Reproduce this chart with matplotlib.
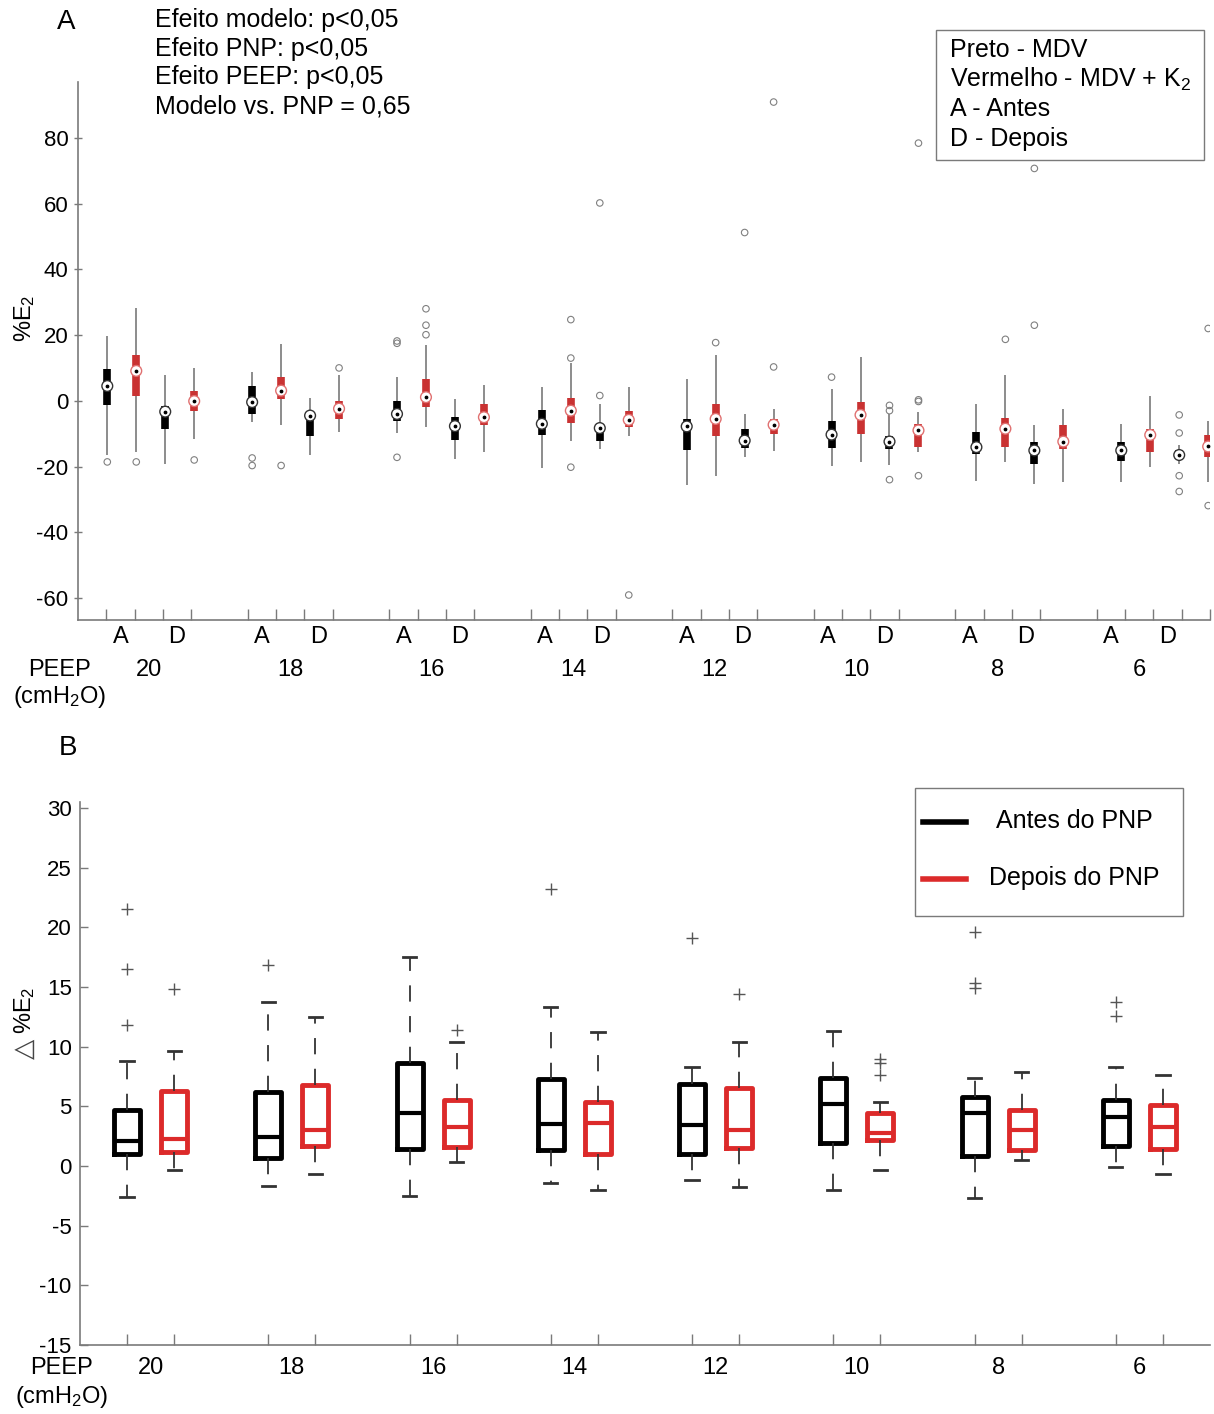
import numpy as np
import matplotlib.pyplot as plt
from matplotlib.lines import Line2D
from matplotlib.patches import Rectangle
from matplotlib.transforms import blended_transform_factory

plt.rcParams['font.family'] = ['Liberation Sans', 'DejaVu Sans']
plt.rcParams['mathtext.fontset'] = 'custom'
plt.rcParams['mathtext.rm'] = 'Liberation Sans'
plt.rcParams['mathtext.it'] = 'Liberation Sans'
plt.rcParams['axes.unicode_minus'] = False

peep = [20, 18, 16, 14, 12, 10, 8, 6]

# painel A: para cada PEEP -> MDV antes, MDV+K2 antes, MDV depois, MDV+K2 depois
a_whishi = [19.7, 28.3, 7.7, 10.0,   8.7, 17.4, 1.0, 7.7,
            7.2, 17.1, 0.4, 4.9,     4.2, 11.5, -0.9, 4.2,
            6.7, 14.0, -4.0, -2.4,   3.5, 13.3, -4.0, -3.5,
            -0.9, 7.7, -7.5, -2.4,   -7.0, 1.6, -13.6, -6.0]
a_q3 = [9.8, 14.0, -1.6, 3.1,    4.5, 7.2, -3.5, -0.2,
        -0.2, 6.5, -5.0, -0.9,   -2.7, 0.8, -7.0, -3.0,
        -5.5, -0.9, -8.7, -5.5,  -6.2, -0.4, -10.6, -7.0,
        -9.6, -5.3, -12.6, -7.5, -12.6, -8.5, -15.1, -10.4]
a_med = [4.5, 9.1, -3.3, -0.1,    -0.4, 3.1, -4.5, -2.4,
         -4.0, 1.1, -7.7, -5.0,   -7.0, -3.0, -8.3, -5.8,
         -7.8, -5.5, -12.1, -7.3, -10.3, -4.3, -12.4, -9.0,
         -14.1, -8.5, -15.1, -12.4, -15.1, -10.4, -16.5, -13.9]
a_q1 = [-1.2, 1.6, -8.5, -3.0,    -4.0, 0.6, -10.6, -5.5,
        -6.0, -1.9, -11.8, -7.5,  -10.4, -6.7, -12.1, -8.0,
        -15.1, -10.8, -14.4, -10.0, -14.4, -10.0, -14.6, -14.1,
        -16.2, -14.1, -19.2, -14.6, -18.2, -15.6, -17.7, -17.2]
a_whislo = [-16.5, -15.6, -19.2, -11.6,  -6.5, -7.5, -16.6, -9.4,
            -9.8, -8.0, -17.7, -15.6,    -20.5, -12.1, -14.6, -10.6,
            -25.6, -22.8, -17.2, -15.4,  -19.7, -18.7, -19.5, -15.6,
            -24.3, -18.7, -25.3, -24.6,  -24.6, -20.2, -19.2, -24.6]
a_fliers = [[-18.6], [-18.6], [], [-18.0],
            [-17.4, -19.7], [-19.7], [], [10.0],
            [17.5, 18.2, -17.2], [20.1, 23.0, 28.0], [], [],
            [], [13.0, 24.7, -20.2], [1.6, 60.2], [-59.1],
            [], [17.7], [51.2], [10.3, 90.9],
            [7.2], [], [-1.4, -3.0, -24.0], [-0.2, 0.3, -22.8, 78.4],
            [], [18.7], [23.0, 70.7], [],
            [], [], [-4.3, -9.8, -22.8, -27.6], [22.0, -31.9]]

# painel B: delta %E2 antes / depois do PNP
b_antes_q1 = [1.0, 0.7, 1.45, 1.3, 1.0, 1.9, 0.8, 1.7]
b_antes_med = [2.1, 2.4, 4.4, 3.5, 3.4, 5.2, 4.4, 4.1]
b_antes_q3 = [4.65, 6.2, 8.6, 7.3, 6.9, 7.4, 5.8, 5.55]
b_antes_lo = [-2.6, -1.7, -2.5, -1.4, -1.2, -2.0, -2.7, -0.1]
b_antes_hi = [8.8, 13.7, 17.5, 13.3, 8.3, 11.3, 7.4, 8.3]
b_antes_fl = [[11.8, 16.5, 21.5], [16.8], [], [23.2], [19.1], [], [14.9, 15.3, 19.6], [12.6, 13.7]]
b_depois_q1 = [1.2, 1.7, 1.6, 1.0, 1.5, 2.15, 1.3, 1.45]
b_depois_med = [2.3, 3.0, 3.3, 3.6, 3.0, 2.8, 3.0, 3.25]
b_depois_q3 = [6.3, 6.75, 5.55, 5.35, 6.5, 4.4, 4.7, 5.1]
b_depois_lo = [-0.3, -0.65, 0.3, -2.05, -1.8, -0.3, 0.46, -0.65]
b_depois_hi = [9.6, 12.5, 10.4, 11.2, 10.4, 5.4, 7.9, 7.6]
b_depois_fl = [[14.8], [], [11.4], [], [14.4], [7.6, 8.6, 9.0], [], []]

W, H = 1214, 1414
RED_A = '#c93232'
RED_B = '#dc2a2a'
GRAY = '#7a7a7a'


def px(x, y):
    return x / W, 1 - y / H


fig = plt.figure(figsize=(W / 100, H / 100), dpi=100)

# ---------------- painel A ----------------
axA = fig.add_axes([78 / W, 1 - 620 / H, (1210 - 78) / W, (620 - 82) / H])
tick_pos = np.array([5 * g + k + 1 for g in range(8) for k in range(4)], dtype=float)
box_pos = 0.0113 + tick_pos * 1.0237
cols = ['black', RED_A, 'black', RED_A] * 8
med_edge = ['#333333', '#e07070', '#333333', '#e07070'] * 8

axA.vlines(box_pos, a_whislo, a_whishi, colors='#6e6e6e', lw=1.1, zorder=1)
axA.vlines(box_pos, a_q1, a_q3, colors=cols, lw=5.5, zorder=2)
axA.scatter(box_pos, a_med, s=60, facecolors='white', edgecolors=med_edge, linewidths=1.0, zorder=3)
axA.scatter(box_pos, a_med, s=3, color='black', zorder=4)
for x, fl in zip(box_pos, a_fliers):
    if fl:
        axA.scatter([x] * len(fl), fl, s=22, facecolors='none', edgecolors='#808080', linewidths=0.8, zorder=3)

axA.set_xlim(0, 40)
axA.set_ylim(-66.7, 97)
axA.set_xticks(list(tick_pos) + [40])
axA.set_xticklabels([])
axA.set_yticks(np.arange(-60, 81, 20))
axA.tick_params(axis='x', direction='in', length=8, color=GRAY, width=1)
axA.tick_params(axis='y', direction='inout', length=6, color=GRAY, width=1, labelsize=16, pad=4)
for s in ['top', 'right']:
    axA.spines[s].set_visible(False)
for s in ['left', 'bottom']:
    axA.spines[s].set_color(GRAY)
    axA.spines[s].set_linewidth(1.2)

trA = blended_transform_factory(axA.transData, fig.transFigure)
for g, p in enumerate(peep):
    axA.text(5 * g + 1.5, 1 - 637 / H, 'A', transform=trA, fontsize=17, ha='center', va='center')
    axA.text(5 * g + 3.5, 1 - 637 / H, 'D', transform=trA, fontsize=17, ha='center', va='center')
    axA.text(5 * g + 2.5, 1 - 670 / H, str(p), transform=trA, fontsize=17, ha='center', va='center')

fig.text(*px(60, 670), 'PEEP', fontsize=17, ha='center', va='center')
fig.text(*px(60, 697), '(cmH$_2$O)', fontsize=17, ha='center', va='center')
fig.text(*px(25, 318), '%E$_2$', fontsize=17, ha='center', va='center', rotation=90)
fig.text(*px(66, 22), 'A', fontsize=20, ha='center', va='center')

stats = ['Efeito modelo: p<0,05', 'Efeito PNP: p<0,05', 'Efeito PEEP: p<0,05', 'Modelo vs. PNP = 0,65']
for i, t in enumerate(stats):
    fig.text(*px(155, 20 + 28.7 * i), t, fontsize=18, ha='left', va='center')

fig.add_artist(Rectangle(px(936, 160), 268 / W, 130 / H, transform=fig.transFigure,
                         fill=False, ec=GRAY, lw=1))
leg_a = ['Preto - MDV', 'Vermelho - MDV + K$_2$', 'A - Antes', 'D - Depois']
for i, t in enumerate(leg_a):
    fig.text(*px(950, 50 + 29.7 * i), t, fontsize=18, ha='left', va='center')

# ---------------- painel B ----------------
axB = fig.add_axes([80 / W, 1 - 1345 / H, (1210 - 80) / W, (1345 - 802) / H])


def stats_list(q1, med, q3, lo, hi, fl):
    return [dict(q1=a, med=b, q3=c, whislo=d, whishi=e, fliers=f)
            for a, b, c, d, e, f in zip(q1, med, q3, lo, hi, fl)]


pos_antes = [1 + 3 * g for g in range(8)]
pos_depois = [2 + 3 * g for g in range(8)]
for st, pos, c in [(stats_list(b_antes_q1, b_antes_med, b_antes_q3, b_antes_lo, b_antes_hi, b_antes_fl), pos_antes, 'black'),
                   (stats_list(b_depois_q1, b_depois_med, b_depois_q3, b_depois_lo, b_depois_hi, b_depois_fl), pos_depois, RED_B)]:
    axB.bxp(st, positions=pos, widths=0.55, capwidths=0.28, showfliers=True,
            boxprops=dict(color=c, lw=3.5),
            medianprops=dict(color=c, lw=3),
            whiskerprops=dict(color='#333333', lw=1.3, dashes=(9, 8)),
            capprops=dict(color='#333333', lw=2),
            flierprops=dict(marker='+', markeredgecolor='#555555', markersize=8, markeredgewidth=1))

axB.set_xlim(0, 24)
axB.set_ylim(-15, 30.5)
axB.set_xticks(pos_antes + pos_depois)
axB.set_xticklabels([])
axB.set_yticks(np.arange(-15, 31, 5))
axB.tick_params(axis='x', direction='in', length=8, color=GRAY, width=1)
axB.tick_params(axis='y', direction='in', length=6, color=GRAY, width=1, labelsize=16, pad=6)
for s in ['top', 'right']:
    axB.spines[s].set_visible(False)
for s in ['left', 'bottom']:
    axB.spines[s].set_color(GRAY)
    axB.spines[s].set_linewidth(1.2)

trB = blended_transform_factory(axB.transData, fig.transFigure)
for g, p in enumerate(peep):
    axB.text(3 * g + 1.5, 1 - 1368 / H, str(p), transform=trB, fontsize=17, ha='center', va='center')

fig.text(*px(62, 1368), 'PEEP', fontsize=17, ha='center', va='center')
fig.text(*px(62, 1397), '(cmH$_2$O)', fontsize=17, ha='center', va='center')
fig.text(*px(25, 1049), '\u25b3', family='DejaVu Sans', fontsize=19, color='#444444',
         ha='center', va='center', rotation=90)
fig.text(*px(25, 1010), '%E$_2$', fontsize=17, ha='center', va='center', rotation=90)
fig.text(*px(68, 748), 'B', fontsize=20, ha='center', va='center')

fig.add_artist(Rectangle(px(915, 916), 268 / W, 128 / H, transform=fig.transFigure,
                         fill=False, ec=GRAY, lw=1))
for yy, c, lab in [(822, 'black', 'Antes do PNP'), (879, RED_B, 'Depois do PNP')]:
    fig.add_artist(Line2D([923 / W, 966 / W], [1 - yy / H] * 2, transform=fig.transFigure, color=c, lw=4))
    fig.text(*px(1074, yy - 1), lab, fontsize=18, ha='center', va='center')

fig.savefig('out.png', dpi=100)
